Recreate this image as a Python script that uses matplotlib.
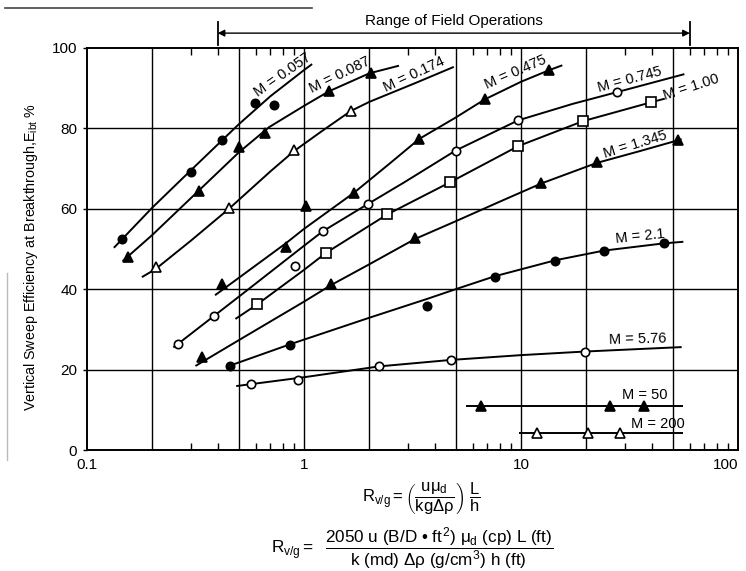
import numpy as np
import matplotlib
matplotlib.use("Agg")
import matplotlib.pyplot as plt
from matplotlib.ticker import FixedLocator, NullFormatter, FixedFormatter
from matplotlib.transforms import blended_transform_factory
from matplotlib.lines import Line2D

plt.rcParams['font.family'] = ['Liberation Sans', 'DejaVu Sans']
plt.rcParams['mathtext.fontset'] = 'custom'
plt.rcParams['mathtext.rm'] = 'Liberation Sans'
plt.rcParams['mathtext.it'] = 'Liberation Sans'
plt.rcParams['mathtext.bf'] = 'Liberation Sans:bold'
plt.rcParams['mathtext.sf'] = 'Liberation Sans'

# ---------------- data ----------------
labels = ["M = 0.057", "M = 0.087", "M = 0.174", "M = 0.475", "M = 0.745",
          "M = 1.00", "M = 1.345", "M = 2.1", "M = 5.76", "M = 50", "M = 200"]

# measured points
m057_x = [0.145, 0.30, 0.42, 0.597, 0.726]
m057_y = [52.6, 69.1, 77.0, 86.2, 85.9]
m087_x = [0.155, 0.327, 0.50, 0.664, 1.30, 2.03]
m087_y = [48.0, 64.5, 75.4, 78.8, 89.4, 93.9]
m174_x = [0.207, 0.451, 0.897, 1.64]
m174_y = [45.5, 60.2, 74.7, 84.4]
m475_x = [0.417, 0.824, 1.02, 1.70, 3.4, 6.8, 13.5]
m475_y = [41.3, 50.6, 60.6, 64.0, 77.4, 87.3, 94.6]
m745_x = [0.263, 0.386, 0.906, 1.22, 1.97, 5.0, 9.7, 27.6]
m745_y = [26.4, 33.4, 45.8, 54.4, 61.2, 74.5, 82.1, 89.1]
m100_x = [0.608, 1.26, 2.42, 4.71, 9.72, 19.3, 39.8]
m100_y = [36.2, 49.0, 58.6, 66.6, 75.6, 81.8, 86.5]
m1345_x = [0.34, 1.33, 3.25, 12.4, 22.3, 52.7]
m1345_y = [23.2, 41.2, 52.8, 66.5, 71.6, 77.0]
m21_x = [0.455, 0.863, 3.7, 7.55, 14.4, 24.1, 45.5]
m21_y = [21.0, 26.1, 35.9, 43.0, 47.1, 49.5, 51.4]
m576_x = [0.571, 0.94, 2.22, 4.74, 19.8]
m576_y = [16.3, 17.3, 20.8, 22.3, 24.4]
m50_x = [6.56, 25.7, 37.0]
m50_y = [11.0, 11.0, 11.0]
m200_x = [11.8, 20.4, 28.5]
m200_y = [4.3, 4.3, 4.2]

# trend curves
c057_x = [0.133, 0.2, 0.3, 0.5, 0.7, 1.0, 1.09]
c057_y = [50.3, 60.3, 69.5, 81.0, 88.0, 94.5, 96.0]
c087_x = [0.146, 0.2, 0.327, 0.5, 0.69, 1.0, 1.3, 2.0, 2.74]
c087_y = [47.0, 53.5, 64.5, 74.0, 80.3, 85.6, 89.2, 93.7, 95.6]
c174_x = [0.179, 0.207, 0.3, 0.451, 0.7, 0.897, 1.2, 1.64, 2.0, 3.3, 4.9]
c174_y = [43.0, 45.0, 52.0, 60.0, 69.3, 74.3, 79.2, 84.3, 86.6, 91.4, 95.3]
c475_x = [0.389, 0.5, 0.824, 1.0, 1.7, 2.5, 3.4, 5.0, 6.8, 10.0, 13.5, 15.5]
c475_y = [38.5, 42.8, 51.4, 55.0, 64.0, 71.4, 77.4, 82.7, 87.2, 91.6, 94.5, 95.7]
c745_x = [0.25, 0.386, 0.5, 1.0, 1.22, 1.97, 2.88, 5.0, 9.7, 17.3, 27.6, 56.6]
c745_y = [25.5, 33.4, 38.1, 50.8, 54.4, 61.2, 66.5, 74.5, 82.0, 86.1, 89.0, 93.5]
c100_x = [0.483, 0.608, 1.0, 1.26, 2.42, 4.71, 9.72, 19.3, 39.8, 46.0]
c100_y = [32.6, 36.2, 44.8, 49.0, 58.6, 66.6, 75.6, 81.8, 86.5, 87.4]
c1345_x = [0.316, 0.5, 1.0, 1.33, 2.0, 3.25, 5.0, 8.0, 12.4, 22.3, 35.0, 55.0]
c1345_y = [20.9, 27.3, 36.9, 41.0, 46.2, 52.5, 56.9, 61.8, 66.3, 71.4, 74.3, 77.3]
c21_x = [0.44, 0.863, 2.0, 3.7, 5.0, 7.55, 14.4, 24.1, 45.5, 56.0]
c21_y = [20.7, 26.3, 32.9, 37.6, 40.0, 43.2, 47.2, 49.6, 51.4, 51.8]
c576_x = [0.487, 1.0, 2.22, 4.74, 10.0, 19.8, 55.0]
c576_y = [15.9, 18.1, 20.8, 22.4, 23.6, 24.5, 25.6]
c50_x = [5.57, 55.6]
c50_y = [11.0, 11.0]
c200_x = [9.8, 55.6]
c200_y = [4.3, 4.3]

range_lo, range_hi = 0.4, 60.0
x_tick_vals = [0.1, 1, 10, 100]
x_tick_labels = ["0.1", "1", "10", "100"]
y_tick_vals = [0, 20, 40, 60, 80, 100]
x_grid = [0.2, 0.5, 1, 2, 5, 10, 20, 50]
y_grid = [20, 40, 60, 80]

# ---------------- styles / layout ----------------
points = [(m057_x, m057_y), (m087_x, m087_y), (m174_x, m174_y), (m475_x, m475_y),
          (m745_x, m745_y), (m100_x, m100_y), (m1345_x, m1345_y), (m21_x, m21_y),
          (m576_x, m576_y), (m50_x, m50_y), (m200_x, m200_y)]
curves = [(c057_x, c057_y), (c087_x, c087_y), (c174_x, c174_y), (c475_x, c475_y),
          (c745_x, c745_y), (c100_x, c100_y), (c1345_x, c1345_y), (c21_x, c21_y),
          (c576_x, c576_y), (c50_x, c50_y), (c200_x, c200_y)]
markers = ['o', '^', '^', '^', 'o', 's', '^', 'o', 'o', '^', '^']
filled = [True, True, False, True, False, False, True, True, False, True, False]
label_pos = [(0.80, 93.4, 35), (1.47, 93.2, 26), (3.2, 93.4, 25), (9.4, 94.0, 23.5),
             (31.6, 92.2, 15), (61.0, 90.3, 18), (33.5, 76.0, 17), (35.5, 53.0, 6),
             (34.4, 27.5, 1.5), (37.3, 13.7, 0), (42.8, 6.4, 0)]

fig = plt.figure(figsize=(7.46, 5.71), dpi=100)
ax = fig.add_axes([87 / 746, 1 - 450 / 571, (738 - 87) / 746, (450 - 48) / 571])
ax.set_xscale('log')
ax.set_xlim(0.1, 100)
ax.set_ylim(0, 100)

for gx in x_grid:
    ax.axvline(gx, color='black', lw=1.0, zorder=1)
for gy in y_grid:
    ax.axhline(gy, color='black', lw=1.0, zorder=1)

for (cx, cy), (px, py), mk, fl, lab, (lx, ly, rot) in zip(curves, points, markers, filled, labels, label_pos):
    ax.plot(cx, cy, color='black', lw=1.4, zorder=3, solid_capstyle='butt')
    ms = 6 if mk == 'o' else (7.5 if mk == '^' else 6.5)
    ax.plot(px, py, linestyle='none', marker=mk, ms=ms,
            markerfacecolor='black' if fl else 'white', markeredgecolor='black',
            markeredgewidth=1.2, zorder=4)
    ax.text(lx, ly, lab, rotation=rot, rotation_mode='anchor', ha='center', va='center',
            fontsize=10.5, zorder=5)

# axes styling
for sp in ax.spines.values():
    sp.set_linewidth(1.4)
ax.xaxis.set_major_locator(FixedLocator(x_tick_vals))
ax.xaxis.set_major_formatter(FixedFormatter(x_tick_labels))
ax.xaxis.set_minor_locator(FixedLocator([v * m for v in [0.1, 1, 10] for m in (3, 4, 6, 7, 8, 9)]))
ax.xaxis.set_minor_formatter(NullFormatter())
ax.tick_params(axis='x', which='major', direction='in', length=0, pad=6, labelsize=11)
ax.tick_params(axis='x', which='minor', direction='in', length=5, width=1.0, top=True, bottom=True)
ax.set_yticks(y_tick_vals)
ax.tick_params(axis='y', which='major', direction='out', length=3, width=1.0, pad=4, labelsize=11)
xt_labels = ax.get_xticklabels()
xt_labels[-1].set_horizontalalignment('right')
xt_labels[-1].set_x(100)

ax.set_ylabel(r"Vertical Sweep Efficiency at Breakthrough,$E_{ibt}$ %", fontsize=10.3)
ax.yaxis.set_label_coords(-0.072, 0.48)

# range of field operations
trans = blended_transform_factory(ax.transData, ax.transAxes)
ax.annotate('', xy=(range_lo, 1.037), xytext=(range_hi, 1.037), xycoords=trans, textcoords=trans,
            arrowprops=dict(arrowstyle='<|-|>', lw=1.0, color='black', mutation_scale=10,
                            shrinkA=0, shrinkB=0), annotation_clip=False)
for rx in (range_lo, range_hi):
    ax.plot([rx, rx], [1.008, 1.065], transform=trans, clip_on=False, color='black', lw=1.3)
ax.text(np.sqrt(range_lo * range_hi), 1.068, 'Range of Field Operations', transform=trans,
        ha='center', va='center', fontsize=11)

# formulas
fig.text(0.565, 0.126, r"$R_{v/g} = \left(\dfrac{u\mu_d}{kg\Delta\rho}\right)\ \dfrac{L}{h}$",
         ha='center', va='center', fontsize=12)
formula2 = (r"$R_{v/g} = \ \ \dfrac{2050\ u\ (B/D\ " + "\u2022" +
            r"\ ft^2)\ \mu_d\ (cp)\ L\ (ft)}{k\ (md)\ \Delta\rho\ (g/cm^3)\ h\ (ft)}$")
fig.text(0.552, 0.040, formula2, ha='center', va='center', fontsize=12.3)

# scan artefact lines
fig.add_artist(Line2D([5 / 746, 312 / 746], [1 - 8 / 571, 1 - 8 / 571], color='#444444', lw=1.2))
fig.add_artist(Line2D([7 / 746, 7 / 746], [1 - 273 / 571, 1 - 460 / 571], color='#bbbbbb', lw=1.0))

fig.savefig('out.png', dpi=100)
